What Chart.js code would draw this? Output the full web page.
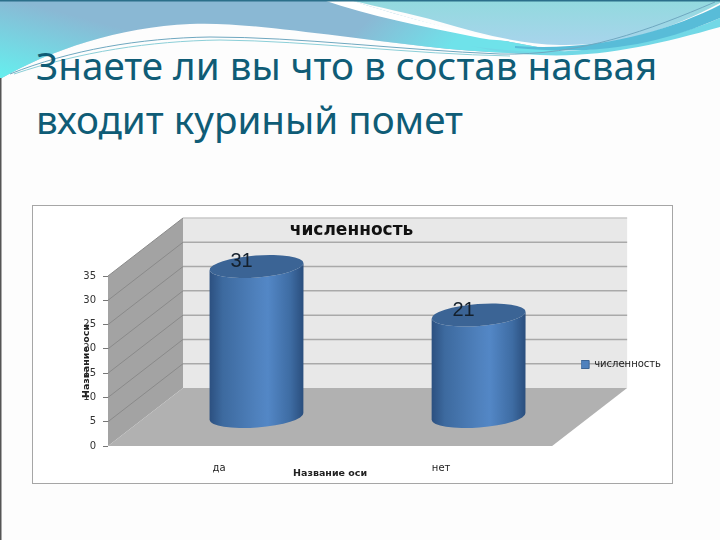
<!DOCTYPE html>
<html lang="ru">
<head>
<meta charset="utf-8">
<title>численность</title>
<script src="https://cdn.jsdelivr.net/npm/chart.js@4/dist/chart.umd.min.js"></script>
<style>
html,body{margin:0;padding:0;width:720px;height:540px;overflow:hidden;background:#fdfdfd;}
#bg{position:absolute;left:0;top:0;}
h1{position:absolute;left:36px;top:38px;margin:0;font:400 38.6px/54px "Noto Sans",sans-serif;color:#0f5c76;white-space:nowrap;}
#panel{position:absolute;left:32px;top:205px;width:639px;height:277px;border:1px solid #a6a6a6;background:#fff;}
#panel canvas{display:block;}
</style>
</head>
<body>
<svg id="bg" width="720" height="540" viewBox="0 0 720 540">
  <defs>
    <linearGradient id="leftFade" gradientUnits="userSpaceOnUse" x1="15" y1="80" x2="35" y2="5">
      <stop offset="0" stop-color="#66eeee"/>
      <stop offset="1" stop-color="#66eeee" stop-opacity="0"/>
    </linearGradient>
    <linearGradient id="rightFade" gradientUnits="userSpaceOnUse" x1="440" y1="55" x2="390" y2="0">
      <stop offset="0" stop-color="#6fe2ea"/>
      <stop offset="1" stop-color="#6fe2ea" stop-opacity="0"/>
    </linearGradient>
    <linearGradient id="corner" x1="0" y1="0" x2="0" y2="1">
      <stop offset="0" stop-color="#92dade"/>
      <stop offset="1" stop-color="#a8d4ec"/>
    </linearGradient>
    <path id="mainBand" d="M0 0H350C400 16 450 30 500 40L570 53C490 56 420 46 340 36C280 29 230 22 190 24C120 27 50 50 0 79Z"/>
  </defs>
  <use href="#mainBand" fill="#8ab8d4"/>
  <use href="#mainBand" fill="url(#leftFade)"/>
  <use href="#mainBand" fill="url(#rightFade)"/>
  <path d="M323 0L350 0C400 16 450 30 520 42C500 40 490 40 480 38C420 26 370 16 323 0Z" fill="#fff"/>
  <path d="M350 0H720V3C670 30 620 46 560 45C520 44 480 34 440 22C410 13 380 8 350 0Z" fill="url(#corner)"/>
  <path d="M470 46C520 53 560 54 610 47C650 41 690 32 720 18V27C660 44 600 58 540 55C510 54 490 50 470 46Z" fill="#72d8e6"/>
  <path d="M515 46C600 52 670 30 720 5V18C660 44 600 56 515 48Z" fill="#58bcd8"/>
  <path d="M10 74C70 50 140 38 210 37C300 37 400 50 500 54C580 56 650 30 715 2" fill="none" stroke="#6fa8c0" stroke-width="1"/>
  <path d="M14 74C80 52 150 41 220 40C310 41 410 54 510 56" fill="none" stroke="#8ccfd8" stroke-width="1"/>
  <rect x="0" y="0" width="720" height="1.5" fill="#2b6f8a"/>
  <rect x="0" y="78" width="1.5" height="462" fill="#555"/>
</svg>
<h1>Знаете ли вы что в состав насвая<br>входит куриный помет</h1>
<div id="panel"><canvas id="myChart" width="639" height="277"></canvas></div>
<script>
let categories=["да","нет"];
let seriesName="численность";
let seriesValues=[31,21];
let yTicks=[0,5,10,15,20,25,30,35];
let chartTitle="численность";
let axisTitle="Название оси";

// 3d look: how far the back wall is pushed from the front plane
let depthX=75;
let depthY=-58;

function wall(ctx,points,fill){
    ctx.beginPath();
    points.forEach((p,i)=>i?ctx.lineTo(p[0],p[1]):ctx.moveTo(p[0],p[1]));
    ctx.closePath();
    ctx.fillStyle=fill;
    ctx.fill();
}

let walls={
    id:'walls',
    // legend and title sit off their default spots in the reference
    afterLayout(chart){
        chart.legend.left+=29;
        chart.legend.right+=29;
        chart.legend.top+=20;
        chart.legend.bottom+=20;
        chart.titleBlock.left+=14;
        chart.titleBlock.right+=14;
    },
    beforeDraw(chart){
        let ctx=chart.ctx;
        let a=chart.chartArea;
        let y=chart.scales.y;
        ctx.save();
        wall(ctx,[[a.left,a.top],[a.left+depthX,a.top+depthY],[a.left+depthX,a.bottom+depthY],[a.left,a.bottom]],'#a3a3a3');
        wall(ctx,[[a.left+depthX,a.top+depthY],[a.right+depthX,a.top+depthY],[a.right+depthX,a.bottom+depthY],[a.left+depthX,a.bottom+depthY]],'#e8e8e8');
        wall(ctx,[[a.left,a.bottom],[a.right,a.bottom],[a.right+depthX,a.bottom+depthY],[a.left+depthX,a.bottom+depthY]],'#b1b1b1');
        y.ticks.forEach(t=>{
            if(t.value===0)return;
            let py=y.getPixelForValue(t.value);
            ctx.beginPath();
            ctx.moveTo(a.left,py);
            ctx.lineTo(a.left+depthX,py+depthY);
            ctx.strokeStyle='#8a8a8a';
            ctx.lineWidth=1;
            ctx.stroke();
            ctx.beginPath();
            ctx.moveTo(a.left+depthX,py+depthY);
            ctx.lineTo(a.right+depthX,py+depthY);
            ctx.strokeStyle=t.value===35?'#c9c9c9':'#a9a9a9';
            ctx.lineWidth=1.5;
            ctx.stroke();
        });
        ctx.restore();
    }
};

// bars are drawn as cylinders from the positions the library worked out
let cylinders={
    id:'cylinders',
    beforeDatasetDraw(chart,args){
        let ctx=chart.ctx;
        let tilt=-0.075;
        args.meta.data.forEach((bar,i)=>{
            let cx=bar.x+depthX/2;
            let top=bar.y+depthY/2;
            let bottom=bar.base+depthY/2;
            let rx=bar.width/2;
            let ry=11;
            let dy=rx*Math.sin(tilt);
            let g=ctx.createLinearGradient(cx-rx,0,cx+rx,0);
            g.addColorStop(0,'#2c5080');
            g.addColorStop(0.14,'#3d6a9f');
            g.addColorStop(0.5,'#4f81bd');
            g.addColorStop(0.62,'#5387c6');
            g.addColorStop(0.86,'#3e6ca3');
            g.addColorStop(1,'#2a4e7d');
            ctx.save();
            ctx.beginPath();
            ctx.moveTo(cx-rx,top-dy);
            ctx.lineTo(cx-rx,bottom-dy);
            ctx.ellipse(cx,bottom,rx,ry,tilt,Math.PI,0,true);
            ctx.lineTo(cx+rx,top+dy);
            ctx.ellipse(cx,top,rx,ry,tilt,0,Math.PI,false);
            ctx.closePath();
            ctx.fillStyle=g;
            ctx.fill();
            ctx.beginPath();
            ctx.ellipse(cx,top,rx,ry,tilt,0,Math.PI*2);
            ctx.fillStyle='#3b6495';
            ctx.fill();
            ctx.font='20px "Liberation Sans",sans-serif';
            ctx.fillStyle='#14202c';
            ctx.textAlign='center';
            ctx.textBaseline='middle';
            ctx.fillText(seriesValues[i],cx-15,top-5);
            ctx.restore();
        });
        return false;
    }
};

new Chart("myChart",{
    type:"bar",
    data:{
        labels:categories,
        datasets:[{
            label:seriesName,
            data:seriesValues,
            backgroundColor:'#4f81bd',
            borderColor:'#3b6495',
            borderWidth:1,
            barPercentage:0.423,
            categoryPercentage:1
        }]
    },
    plugins:[walls,cylinders],
    options:{
        responsive:false,
        animation:false,
        layout:{padding:{left:0,right:30,top:0,bottom:0}},
        plugins:{
            title:{
                display:true,
                text:chartTitle,
                color:'#111',
                font:{family:'"DejaVu Sans"',size:17,weight:'bold',lineHeight:1.2},
                padding:{top:14,bottom:35.6}
            },
            legend:{
                display:true,
                position:'right',
                labels:{
                    boxWidth:8,
                    boxHeight:8,
                    padding:0,
                    color:'#222',
                    font:{family:'"DejaVu Sans"',size:10}
                }
            },
            tooltip:{enabled:false}
        },
        scales:{
            x:{
                afterFit(s){s.height=37;},
                grid:{display:false},
                border:{display:false},
                ticks:{color:'#222',padding:8,font:{family:'"DejaVu Sans"',size:10}},
                title:{display:true,text:axisTitle,color:'#222',padding:{top:0,bottom:4},
                    font:{family:'"DejaVu Sans"',size:9.5,weight:'bold'}}
            },
            y:{
                min:0,
                max:35,
                afterFit(s){s.width=75;},
                afterBuildTicks(s){s.ticks=yTicks.map(v=>({value:v}));},
                grid:{drawOnChartArea:false,drawTicks:true,tickLength:5,color:'#777'},
                border:{display:false},
                ticks:{color:'#333',padding:7,font:{family:'"DejaVu Sans"',size:10}},
                title:{display:true,text:axisTitle,color:'#222',padding:{top:48,bottom:0},
                    font:{family:'"DejaVu Sans"',size:9.5,weight:'bold'}}
            }
        }
    }
});
</script>
</body>
</html>
